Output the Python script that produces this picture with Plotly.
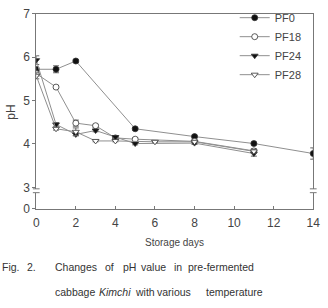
import plotly.graph_objects as go

# ---- data ----
days_pf0 = [0, 1, 2, 5, 8, 11, 14]
ph_pf0 = [5.72, 5.72, 5.91, 4.35, 4.17, 4.01, 3.78]
err_pf0 = [0.04, 0.08, 0.03, 0.03, 0.03, 0.03, 0.13]

days_pf18 = [0, 1, 2, 3, 4, 5, 8, 11]
ph_pf18 = [5.62, 5.31, 4.48, 4.42, 4.14, 4.11, 4.06, 3.84]
err_pf18 = [0.05, 0.03, 0.07, 0.03, 0.03, 0.03, 0.03, 0.05]

days_pf24 = [0, 1, 2, 3, 4, 5, 8, 11]
ph_pf24 = [5.93, 4.45, 4.22, 4.31, 4.16, 4.01, 4.02, 3.78]
err_pf24 = [0.10, 0.04, 0.03, 0.03, 0.03, 0.03, 0.03, 0.06]

days_pf28 = [0, 1, 2, 3, 4, 6, 8, 11]
ph_pf28 = [5.57, 4.35, 4.28, 4.07, 4.07, 4.05, 4.05, 3.83]
err_pf28 = [0.07, 0.03, 0.09, 0.02, 0.02, 0.02, 0.02, 0.04]

series_names = ["PF0", "PF18", "PF24", "PF28"]
y_ticks_top = [3, 4, 5, 6, 7]
y_ticks_bottom = [0]
x_ticks = [0, 2, 4, 6, 8, 10, 12, 14]

W, H = 328, 308
def px(x):
    return x / W
def py(y):
    return 1 - y / H

LINE = "#8f8f8f"
MK = "#111111"
TXT = "#444444"
CAP_FONT = "Liberation Sans, Arial, sans-serif"

fig = go.Figure()
specs = [
    (days_pf0, ph_pf0, err_pf0, "circle", MK),
    (days_pf18, ph_pf18, err_pf18, "circle", "white"),
    (days_pf24, ph_pf24, err_pf24, "triangle-down", MK),
    (days_pf28, ph_pf28, err_pf28, "triangle-down", "white"),
]
for name, (d, v, e, sym, fill) in zip(series_names, specs):
    fig.add_trace(go.Scatter(
        x=d, y=v, name=name, mode="lines+markers",
        xaxis="x2", yaxis="y2",
        line=dict(color=LINE, width=1),
        marker=dict(symbol=sym, size=6, color=fill, line=dict(color="#333333", width=0.8)),
        error_y=dict(type="data", array=e, color="#666666", thickness=1, width=3),
    ))

# empty trace for the bottom (broken) axis pair so it is drawn
fig.add_trace(go.Scatter(x=[None], y=[None], xaxis="x", yaxis="y", showlegend=False))

x_left, x_right = 34.3, 320.0
top_px, y3_px = 7.0, 189.0
unit = (y3_px - top_px) / 4.0
top_bottom_px = 190.5
bot_top_px, bot_bottom_px = 194.5, 211.5

AX = "#777777"
fig.update_layout(
    width=W, height=H,
    margin=dict(l=0, r=0, t=0, b=0),
    paper_bgcolor="white", plot_bgcolor="white",
    font=dict(family="Arial, Liberation Sans, sans-serif", color=TXT, size=12),
    showlegend=True,
    legend=dict(x=px(239), y=py(-4), xanchor="left", yanchor="top",
                bgcolor="rgba(0,0,0,0)", font=dict(size=11, color=TXT),
                itemwidth=30, tracegroupgap=0),
    xaxis=dict(domain=[px(x_left), px(x_right)], range=[0, 14], anchor="y",
               showline=True, linecolor=AX, linewidth=1, mirror=False,
               ticks="inside", ticklen=3, tickcolor=AX, tickvals=x_ticks,
               ticklabelstandoff=3,
               showgrid=False, zeroline=False, tickfont=dict(size=12, color=TXT)),
    yaxis=dict(domain=[py(bot_bottom_px), py(bot_top_px)], range=[0, (bot_bottom_px - bot_top_px) / unit],
               anchor="x", showline=True, linecolor=AX, linewidth=1, mirror=True,
               ticks="outside", ticklen=3, tickcolor=AX, tickvals=y_ticks_bottom,
               showgrid=False, zeroline=False, tickfont=dict(size=12, color=TXT)),
    xaxis2=dict(domain=[px(x_left), px(x_right)], range=[0, 14], anchor="y2", side="top",
                showline=True, linecolor=AX, linewidth=1, mirror=False,
                showticklabels=False, ticks="", showgrid=False, zeroline=False),
    yaxis2=dict(domain=[py(top_bottom_px), py(top_px)],
                range=[3 - (top_bottom_px - y3_px) / unit, 7],
                anchor="x2", showline=True, linecolor=AX, linewidth=1, mirror=True,
                ticks="outside", ticklen=3, tickcolor=AX, tickvals=y_ticks_top,
                showgrid=False, zeroline=False, tickfont=dict(size=12, color=TXT)),
)

shapes = []
for xc in (x_left, x_right):
    for yy in (top_bottom_px, bot_top_px):
        shapes.append(dict(type="line", xref="paper", yref="paper",
                           x0=px(xc - 3.5), x1=px(xc + 3.5), y0=py(yy), y1=py(yy),
                           line=dict(color=AX, width=1)))
fig.update_layout(shapes=shapes)

ann = [
    dict(text="pH", x=px(8), y=py(110), xanchor="center", textangle=-90,
         font=dict(size=12, color=TXT)),
    dict(text="Storage days", x=px(177), y=py(247), xanchor="center",
         font=dict(size=10, color=TXT)),
]
line1 = [("Fig.", -3), ("2.", 23), ("Changes", 52), ("of", 103), ("pH", 122), ("value", 140),
         ("in", 174), ("pre-fermented", 189)]
line2 = [("cabbage", 52), ("<i>Kimchi</i>", 97), ("with", 134), ("various", 157),
         ("temperature", 207)]
for t, x in line1:
    ann.append(dict(text=t, x=px(x), y=py(272), xanchor="left",
                    font=dict(size=10.5, color="#333333", family=CAP_FONT)))
for t, x in line2:
    ann.append(dict(text=t, x=px(x), y=py(299), xanchor="left",
                    font=dict(size=10.5, color="#333333", family=CAP_FONT)))
for a in ann:
    a.update(xref="paper", yref="paper", showarrow=False, yanchor="middle")
fig.update_layout(annotations=ann)

fig.write_html("out.html")
